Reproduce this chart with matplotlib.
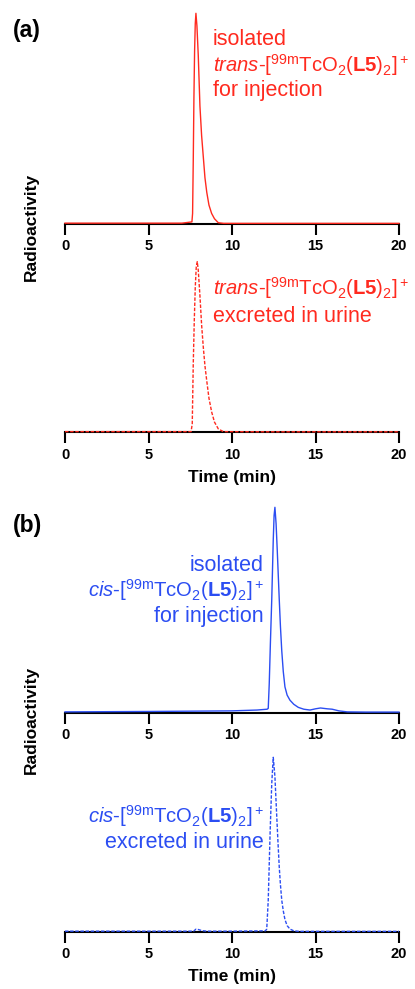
import matplotlib
matplotlib.use('agg')
import matplotlib.pyplot as plt

plt.rcParams['font.family'] = ['Liberation Sans', 'DejaVu Sans']
plt.rcParams['mathtext.fontset'] = 'custom'
plt.rcParams['mathtext.rm'] = 'Liberation Sans'
plt.rcParams['mathtext.it'] = 'Liberation Sans:italic'
plt.rcParams['mathtext.bf'] = 'Liberation Sans:bold'

RED = '#ff2a1f'
BLUE = '#2b4df2'

# relative radioactivity traces (peak = 1)
t_trans_inj = [0, 5, 7.0, 7.60, 7.64, 7.68, 7.72, 7.76, 7.80, 7.84, 7.90, 7.98, 8.08,
               8.18, 8.28, 8.38, 8.49, 8.62, 8.78, 8.95, 9.18, 9.5, 12, 16, 20]
y_trans_inj = [0.004, 0.004, 0.004, 0.01, 0.05, 0.30, 0.60, 0.82, 0.95, 1.0, 0.94, 0.80, 0.56,
               0.42, 0.32, 0.22, 0.15, 0.09, 0.05, 0.025, 0.006, 0.003, 0.003, 0.003, 0.003]

t_trans_uri = [0, 5, 7.55, 7.62, 7.68, 7.74, 7.80, 7.86, 7.92, 7.98, 8.08, 8.18, 8.28,
               8.38, 8.49, 8.62, 8.78, 8.95, 9.18, 9.48, 12, 20]
y_trans_uri = [0.004, 0.004, 0.004, 0.05, 0.40, 0.65, 0.85, 0.97, 1.0, 0.95, 0.80, 0.63, 0.50,
               0.39, 0.30, 0.20, 0.12, 0.06, 0.02, 0.004, 0.003, 0.003]

t_cis_inj = [0, 5, 10, 11.5, 12.1, 12.17, 12.23, 12.30, 12.38, 12.47, 12.52, 12.57, 12.64,
             12.71, 12.77, 12.83, 12.90, 12.98, 13.07, 13.17, 13.30, 13.47, 13.7, 13.97,
             14.3, 14.67, 15.0, 15.3, 15.7, 16.0, 16.4, 16.9, 18, 20]
y_cis_inj = [0.003, 0.005, 0.008, 0.012, 0.016, 0.02, 0.14, 0.34, 0.55, 0.84, 0.96, 1.0, 0.92,
             0.79, 0.67, 0.55, 0.42, 0.30, 0.20, 0.125, 0.085, 0.06, 0.04, 0.025,
             0.016, 0.012, 0.018, 0.022, 0.018, 0.016, 0.008, 0.003, 0.002, 0.002]

t_cis_uri = [0, 5, 7.7, 7.85, 8.0, 8.2, 8.5, 10, 12.0, 12.08, 12.17, 12.28, 12.38, 12.47,
             12.57, 12.68, 12.76, 12.83, 12.90, 12.98, 13.07, 13.17, 13.30, 13.47, 13.7,
             14, 20]
y_cis_uri = [0.003, 0.003, 0.003, 0.015, 0.012, 0.006, 0.003, 0.003, 0.005, 0.015, 0.18, 0.56,
             0.85, 1.0, 0.89, 0.66, 0.50, 0.37, 0.27, 0.18, 0.12, 0.07, 0.035, 0.015, 0.005,
             0.002, 0.002]

x_ticks = [0, 5, 10, 15, 20]

W, H = 415, 989
fig = plt.figure(figsize=(W / 100, H / 100), dpi=100)


def px(x, y):
    return x / W, 1 - y / H


def make_axes(spine_y, top_y):
    ax = fig.add_axes([65 / W, 1 - spine_y / H, 334 / W, (spine_y - top_y) / H])
    ax.set_xlim(0, 20)
    ax.set_ylim(0, 1)
    for s in ('left', 'top', 'right'):
        ax.spines[s].set_visible(False)
    ax.spines['bottom'].set_linewidth(1.5)
    ax.set_yticks([])
    ax.set_xticks(x_ticks)
    ax.set_xticklabels([str(v) for v in x_ticks], fontweight='bold', fontsize=10.5)
    ax.tick_params(axis='x', direction='out', length=8, width=1.5, pad=3)
    ax.patch.set_alpha(0)
    return ax


ax1 = make_axes(224, 13.3)
ax1.plot(t_trans_inj, y_trans_inj, color=RED, lw=1.0, clip_on=False, zorder=3)

ax2 = make_axes(432.3, 261.7)
ax2.plot(t_trans_uri, y_trans_uri, color=RED, lw=1.0, ls=(0, (2.5, 1.2)), clip_on=False, zorder=3)
ax2.set_xlabel('Time (min)', fontweight='bold', fontsize=12.5, labelpad=6)

ax3 = make_axes(712.5, 507.3)
ax3.plot(t_cis_inj, y_cis_inj, color=BLUE, lw=1.0, clip_on=False, zorder=3)

ax4 = make_axes(931.7, 757.3)
ax4.plot(t_cis_uri, y_cis_uri, color=BLUE, lw=1.0, ls=(0, (2.5, 1.2)), clip_on=False, zorder=3)
ax4.set_xlabel('Time (min)', fontweight='bold', fontsize=12.5, labelpad=6)

trans_name = r'$\mathit{trans}$-[$^{\mathrm{99m}}$TcO$_2$($\mathbf{L5}$)$_2$]$^+$'
cis_name = r'$\mathit{cis}$-[$^{\mathrm{99m}}$TcO$_2$($\mathbf{L5}$)$_2$]$^+$'
fs = 15.5
fs_name = 14.6

fig.text(*px(213, 45), 'isolated', color=RED, fontsize=fs, va='baseline', ha='left')
fig.text(*px(213, 72), trans_name, color=RED, fontsize=fs_name, va='baseline', ha='left')
fig.text(*px(213, 96), 'for injection', color=RED, fontsize=fs, va='baseline', ha='left')

fig.text(*px(213, 295), trans_name, color=RED, fontsize=fs_name, va='baseline', ha='left')
fig.text(*px(213, 322), 'excreted in urine', color=RED, fontsize=fs, va='baseline', ha='left')

fig.text(*px(264, 571), 'isolated', color=BLUE, fontsize=fs, va='baseline', ha='right')
fig.text(*px(264, 597), cis_name, color=BLUE, fontsize=fs_name, va='baseline', ha='right')
fig.text(*px(264, 622), 'for injection', color=BLUE, fontsize=fs, va='baseline', ha='right')

fig.text(*px(264, 823), cis_name, color=BLUE, fontsize=fs_name, va='baseline', ha='right')
fig.text(*px(264, 848), 'excreted in urine', color=BLUE, fontsize=fs, va='baseline', ha='right')

fig.text(*px(13, 37), '(a)', fontsize=16.5, fontweight='bold', va='baseline', ha='left')
fig.text(*px(13, 532), '(b)', fontsize=16.5, fontweight='bold', va='baseline', ha='left')

fig.text(*px(31, 227), 'Radioactivity', fontsize=12.5, fontweight='bold',
         rotation=90, va='center', ha='center')
fig.text(*px(31, 720), 'Radioactivity', fontsize=12.5, fontweight='bold',
         rotation=90, va='center', ha='center')

fig.savefig('out.png', dpi=100, facecolor='white')
